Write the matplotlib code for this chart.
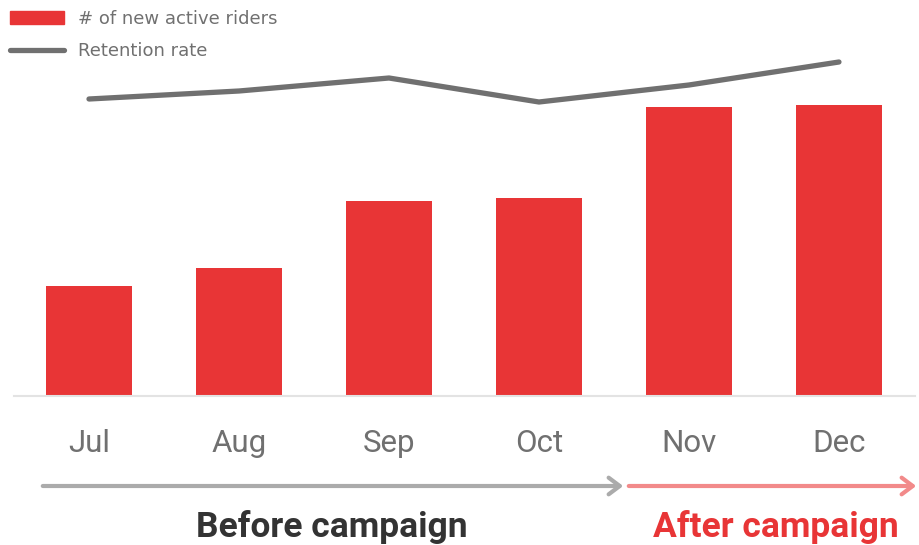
import matplotlib.pyplot as plt
from matplotlib.patches import Patch, FancyArrowPatch
from matplotlib.lines import Line2D

# Data
months = ['Jul', 'Aug', 'Sep', 'Oct', 'Nov', 'Dec']
new_riders = [1100, 1280, 1950, 1980, 2890, 2910]
retention = [59.4, 61.0, 63.6, 58.8, 62.2, 66.8]

red = '#E83536'
grey = '#707070'
narrow = ['Roboto', 'DejaVu Sans']

fig = plt.figure(figsize=(9.19, 5.45), dpi=100)
ax = fig.add_axes([14 / 919, 149 / 545, 901 / 919, 346 / 545])

x = range(len(months))
ax.bar(x, new_riders, width=0.573, color=red, zorder=2)
ax.set_xlim(-0.5, 5.507)
ax.set_ylim(0, 3460)

for s in ['top', 'right', 'left']:
    ax.spines[s].set_visible(False)
ax.spines['bottom'].set_color('#e3e3e3')
ax.spines['bottom'].set_linewidth(1.5)
ax.set_yticks([])
ax.set_xticks(list(x))
ax.set_xticklabels(months, fontsize=22.5, color=grey, family=narrow)
ax.tick_params(axis='x', length=0, pad=24)

# Retention rate on its own scale
ax2 = ax.twinx()
ax2.plot(x, retention, color=grey, linewidth=3.8, solid_capstyle='round', zorder=3)
ax2.set_ylim(0, 69.2)
ax2.set_yticks([])
for s in ax2.spines.values():
    s.set_visible(False)

# Legend
handles = [Patch(color=red), Line2D([], [], color=grey, linewidth=3.8, solid_capstyle='round')]
fig.legend(handles, ['# of new active riders', 'Retention rate'], loc='upper left',
           bbox_to_anchor=(-0.007, 1.012), frameon=False, fontsize=13, labelcolor=grey,
           handlelength=3.0, handleheight=0.8, labelspacing=0.8, handletextpad=0.75)

# Campaign arrows
y_arr = 1 - 486 / 545
fig.patches.append(FancyArrowPatch(
    (40 / 919, y_arr), (626 / 919, y_arr), transform=fig.transFigure,
    arrowstyle='->,head_length=8,head_width=6', color='#ababab', linewidth=3))
fig.patches.append(FancyArrowPatch(
    (626 / 919, y_arr), (919 / 919, y_arr), transform=fig.transFigure,
    arrowstyle='->,head_length=8,head_width=6', color='#f28a8a', linewidth=3))

fig.text(332 / 919, 1 - 527 / 545, 'Before campaign', ha='center', va='center',
         fontsize=25.5, fontweight='bold', color='#333333', family=narrow)
fig.text(776 / 919, 1 - 527 / 545, 'After campaign', ha='center', va='center',
         fontsize=25.5, fontweight='bold', color=red, family=narrow)

plt.savefig('out.png', dpi=100)
